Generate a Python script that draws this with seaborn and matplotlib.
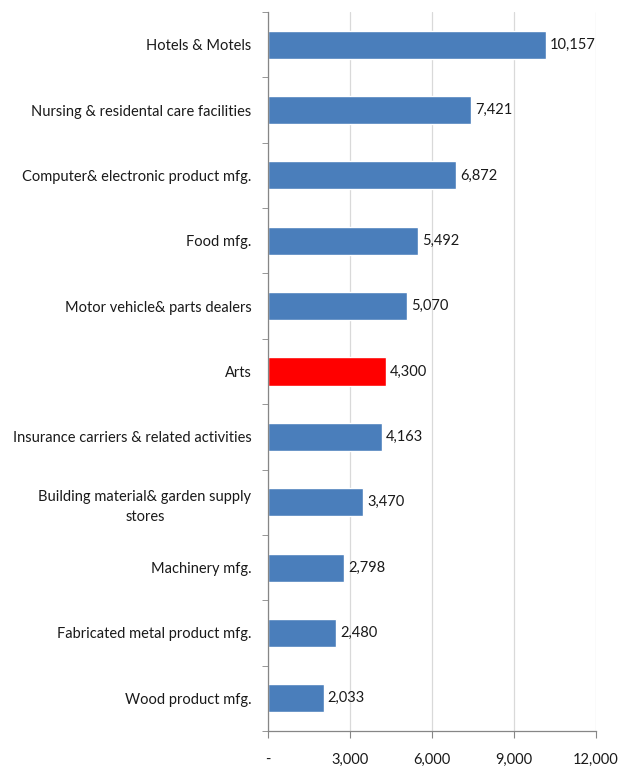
import matplotlib
matplotlib.use("Agg")
import matplotlib.pyplot as plt
import seaborn as sns
import pandas as pd
import numpy as np
from matplotlib.ticker import FuncFormatter, FixedLocator

industries = [
    "Hotels & Motels",
    "Nursing & residental care facilities",
    "Computer& electronic product mfg.",
    "Food mfg.",
    "Motor vehicle& parts dealers",
    "Arts",
    "Insurance carriers & related activities",
    "Building material& garden supply\nstores",
    "Machinery mfg.",
    "Fabricated metal product mfg.",
    "Wood product mfg.",
]
values = [10157, 7421, 6872, 5492, 5070, 4300, 4163, 3470, 2798, 2480, 2033]
highlight = "Arts"

df = pd.DataFrame({"industry": industries, "value": values})
blue = "#4a7ebb"
red = "#ff0000"
colors = [red if name == highlight else blue for name in industries]

sns.set_style("white")
plt.rcParams["font.family"] = ["Lato", "DejaVu Sans"]

fig = plt.figure(figsize=(6.18, 7.69), dpi=100)
ax = fig.add_axes([268 / 618, 1 - 731 / 769, 328 / 618, 719 / 769])

sns.barplot(data=df, x="value", y="industry", hue="industry", palette=colors,
            legend=False, width=0.43, ax=ax, saturation=1)

ax.set_xlim(0, 12000)
ax.set_ylim(len(industries) - 0.5, -0.5)
ax.set_xticks([0, 3000, 6000, 9000, 12000])
ax.xaxis.set_major_formatter(FuncFormatter(lambda v, p: "-" if v == 0 else f"{int(v):,}"))
ax.grid(axis="x", color="#d9d9d9", linewidth=0.9)
ax.set_axisbelow(True)
ax.set_xlabel("")
ax.set_ylabel("")

for s in ["top", "right"]:
    ax.spines[s].set_visible(False)
for s in ["left", "bottom"]:
    ax.spines[s].set_color("#868686")
    ax.spines[s].set_linewidth(0.9)

# tick marks between categories, like the original
ax.yaxis.set_minor_locator(FixedLocator(np.arange(-0.5, len(industries), 1.0)))
ax.tick_params(axis="y", which="major", length=0, pad=12, labelsize=10.5, colors="#1a1a1a")
ax.tick_params(axis="y", which="minor", length=4, color="#868686", left=True)
ax.tick_params(axis="x", length=5, color="#868686", bottom=True, pad=11, labelsize=10.5, colors="#1a1a1a")

for label in ax.get_yticklabels():
    label.set_multialignment("center")
    label.set_linespacing(1.6)

for i, v in enumerate(values):
    ax.text(v + 150, i, f"{v:,}", va="center", ha="left", fontsize=10.5, color="#1a1a1a")

fig.savefig("out.png", dpi=100)
